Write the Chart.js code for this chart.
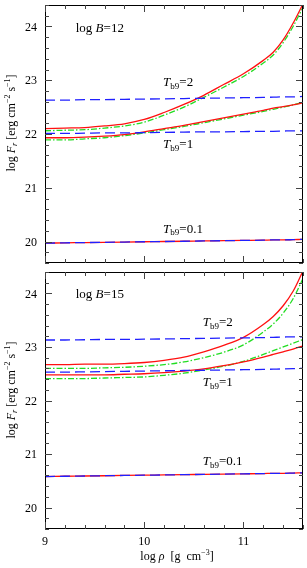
<!DOCTYPE html>
<html><head><meta charset="utf-8">
<script src="https://cdn.jsdelivr.net/npm/chart.js@4/dist/chart.umd.min.js"></script>
<style>
html,body{margin:0;padding:0;background:#fff;width:307px;height:568px;overflow:hidden}
canvas{position:absolute;left:0}
#c1{top:0}
#c2{top:267px}
</style></head><body>
<canvas id="c1" width="307" height="267"></canvas>
<canvas id="c2" width="307" height="301"></canvas>
<script>
// ---- data ----
const rho = [9.0,9.2,9.4,9.6,9.8,10.0,10.2,10.4,10.6,10.8,11.0,11.2,11.3,11.4,11.5,11.6];

// log B = 12
const b12RedT2   = [22.10,22.11,22.12,22.15,22.19,22.27,22.40,22.55,22.72,22.92,23.12,23.37,23.52,23.75,24.06,24.42];
const b12GreenT2 = [22.06,22.07,22.08,22.11,22.15,22.22,22.35,22.50,22.68,22.87,23.07,23.32,23.47,23.70,24.00,24.36];
const b12BlueT2  = [22.63,22.63,22.64,22.64,22.645,22.65,22.655,22.66,22.665,22.67,22.675,22.68,22.685,22.69,22.69,22.70];
const b12RedT1   = [21.93,21.93,21.94,21.96,21.99,22.04,22.10,22.16,22.23,22.30,22.37,22.44,22.48,22.51,22.54,22.58];
const b12GreenT1 = [21.89,21.89,21.91,21.93,21.97,22.02,22.08,22.14,22.21,22.28,22.35,22.42,22.46,22.50,22.54,22.59];
const b12BlueT1  = [22.01,22.01,22.015,22.02,22.02,22.025,22.03,22.035,22.04,22.04,22.045,22.05,22.05,22.055,22.06,22.06];
const b12RedT01  = [19.97,19.975,19.98,19.985,19.99,19.995,20.00,20.005,20.01,20.015,20.02,20.025,20.03,20.03,20.035,20.04];
const b12BlueT01 = [19.97,19.975,19.98,19.985,19.99,19.995,20.00,20.005,20.01,20.015,20.02,20.025,20.03,20.03,20.035,20.04];

// log B = 15
const b15RedT2   = [22.67,22.67,22.68,22.68,22.69,22.71,22.75,22.81,22.91,23.03,23.18,23.42,23.57,23.77,24.04,24.42];
const b15GreenT2 = [22.60,22.60,22.60,22.61,22.62,22.64,22.67,22.72,22.80,22.90,23.04,23.28,23.43,23.63,23.90,24.28];
const b15BlueT2  = [23.13,23.13,23.135,23.14,23.14,23.145,23.15,23.155,23.16,23.165,23.17,23.175,23.18,23.185,23.19,23.19];
const b15RedT1   = [22.48,22.48,22.48,22.48,22.49,22.50,22.52,22.55,22.59,22.65,22.72,22.81,22.86,22.91,22.96,23.02];
const b15GreenT1 = [22.41,22.41,22.41,22.42,22.43,22.44,22.47,22.51,22.57,22.64,22.73,22.86,22.93,23.00,23.07,23.14];
const b15BlueT1  = [22.53,22.53,22.535,22.54,22.545,22.55,22.555,22.56,22.565,22.57,22.575,22.58,22.585,22.59,22.595,22.60];
const b15RedT01  = [20.58,20.585,20.59,20.595,20.60,20.605,20.61,20.615,20.62,20.625,20.63,20.635,20.64,20.64,20.645,20.65];
const b15BlueT01 = [20.58,20.585,20.59,20.595,20.60,20.605,20.61,20.615,20.62,20.625,20.63,20.635,20.64,20.64,20.645,20.65];

const xTickLabels = [9, 10, 11];
const yTickLabels = [20, 21, 22, 23, 24];
const tempLabels = ['2', '1', '0.1'];
const fieldLabels = ['12', '15'];

// ---- styling ----
const SERIF = '"Liberation Serif","DejaVu Serif",serif';
const RED = '#ff1010', GREEN = '#22dd22', BLUE = '#2020ff';
const X_MIN = 9, X_MAX = 11.6, Y_MIN = 19.6, Y_MAX = 24.4;

function pts(ys) { return rho.map((x, i) => ({x: x, y: ys[i]})); }
function ds(ys, kind) {
  const base = {data: pts(ys), pointRadius: 0, borderWidth: 1.3, fill: false,
    cubicInterpolationMode: 'monotone'};
  if (kind === 'g') return Object.assign(base, {borderColor: GREEN, borderDash: [6, 2, 1.5, 2], order: 3});
  if (kind === 'r') return Object.assign(base, {borderColor: RED, order: 2});
  return Object.assign(base, {borderColor: BLUE, borderDash: [10, 5], order: 1});
}

function rich(ctx, parts, x, y, align) {
  let w = 0;
  parts.forEach(p => { ctx.font = p.f; w += ctx.measureText(p.t).width; });
  let cx = align === 'center' ? x - w / 2 : (align === 'right' ? x - w : x);
  ctx.textAlign = 'left';
  parts.forEach(p => {
    ctx.font = p.f;
    ctx.fillText(p.t, cx, y + (p.dy || 0));
    cx += ctx.measureText(p.t).width;
  });
}
const R = s => s + 'px ' + SERIF;
const I = s => 'italic ' + s + 'px ' + SERIF;

function tempLabel(t) {
  return [{t: 'T', f: I(13)}, {t: 'b9', f: R(9), dy: 4}, {t: '=' + t, f: R(13)}];
}

const framePlugin = {
  id: 'frame',
  afterDraw(chart, args, opts) {
    const {ctx, chartArea: a, scales: {x, y}} = chart;
    ctx.save();
    ctx.strokeStyle = '#000';
    ctx.lineWidth = 1;
    ctx.strokeRect(a.left + 0.5, a.top + 0.5, a.right - a.left - 1, a.bottom - a.top - 1);
    ctx.strokeStyle = '#444';
    ctx.beginPath();
    for (let i = Math.round(X_MIN * 5); i <= Math.round(X_MAX * 5); i++) {
      const v = i / 5, major = i % 5 === 0;
      const px = Math.round(x.getPixelForValue(v)) + 0.5;
      const L = major ? 7 : 4;
      ctx.moveTo(px, a.bottom); ctx.lineTo(px, a.bottom - L);
      ctx.moveTo(px, a.top); ctx.lineTo(px, a.top + L);
    }
    for (let i = Math.round(Y_MIN * 5); i <= Math.round(Y_MAX * 5); i++) {
      const v = i / 5, major = i % 5 === 0;
      const py = Math.round(y.getPixelForValue(v)) + 0.5;
      const L = major ? 7 : 4;
      ctx.moveTo(a.left, py); ctx.lineTo(a.left + L, py);
      ctx.moveTo(a.right, py); ctx.lineTo(a.right - L, py);
    }
    ctx.stroke();
    ctx.fillStyle = '#000';
    ctx.textBaseline = 'middle';
    ctx.textAlign = 'right';
    ctx.font = R(12);
    yTickLabels.forEach(v => ctx.fillText(String(v), a.left - 8, y.getPixelForValue(v) + 1));
    if (opts.xLabels) {
      ctx.textAlign = 'center';
      xTickLabels.forEach(v => ctx.fillText(String(v), x.getPixelForValue(v), a.bottom + 13));
      rich(ctx, [{t: 'log ', f: R(12)}, {t: 'ρ', f: I(12)}, {t: '  [g  cm', f: R(12)},
                 {t: '−3', f: R(8), dy: -4}, {t: ']', f: R(12)}], 177, a.bottom + 28, 'center');
    }
    ctx.save();
    ctx.translate(12, opts.titleY);
    ctx.rotate(-Math.PI / 2);
    rich(ctx, [{t: 'log ', f: R(12)}, {t: 'F', f: I(12)}, {t: 'r', f: I(8), dy: 3},
               {t: ' [erg cm', f: R(12)}, {t: '−2', f: R(8), dy: -4}, {t: ' s', f: R(12)},
               {t: '−1', f: R(8), dy: -4}, {t: ']', f: R(12)}], 0, 0, 'center');
    ctx.restore();
    ctx.textBaseline = 'middle';
    opts.notes.forEach(n => {
      const parts = n.kind === 'B'
        ? [{t: 'log ', f: R(13)}, {t: 'B', f: I(13)}, {t: '=' + n.text, f: R(13)}]
        : tempLabel(n.text);
      rich(ctx, parts, x.getPixelForValue(n.x), y.getPixelForValue(n.y), 'left');
    });
    ctx.restore();
  }
};

function makeChart(id, sets, pad, opts) {
  return new Chart(document.getElementById(id), {
    type: 'line',
    data: {datasets: sets},
    options: {
      responsive: false, animation: false, devicePixelRatio: 1,
      layout: {padding: pad},
      plugins: {legend: {display: false}, tooltip: {enabled: false}, frame: opts},
      scales: {
        x: {type: 'linear', min: X_MIN, max: X_MAX, display: false},
        y: {type: 'linear', min: Y_MIN, max: Y_MAX, display: false}
      }
    },
    plugins: [framePlugin]
  });
}

makeChart('c1', [
  ds(b12GreenT2, 'g'), ds(b12GreenT1, 'g'),
  ds(b12RedT2, 'r'), ds(b12RedT1, 'r'), ds(b12RedT01, 'r'),
  ds(b12BlueT2, 'b'), ds(b12BlueT1, 'b'), ds(b12BlueT01, 'b')
], {left: 45, right: 4, top: 5, bottom: 4}, {
  xLabels: false, titleY: 123,
  notes: [
    {kind: 'B', text: fieldLabels[0], x: 9.31, y: 23.96},
    {kind: 'T', text: tempLabels[0], x: 10.19, y: 22.96},
    {kind: 'T', text: tempLabels[1], x: 10.19, y: 21.81},
    {kind: 'T', text: tempLabels[2], x: 10.19, y: 20.23}
  ]
});

makeChart('c2', [
  ds(b15GreenT2, 'g'), ds(b15GreenT1, 'g'),
  ds(b15RedT2, 'r'), ds(b15RedT1, 'r'), ds(b15RedT01, 'r'),
  ds(b15BlueT2, 'b'), ds(b15BlueT1, 'b'), ds(b15BlueT01, 'b')
], {left: 45, right: 4, top: 5, bottom: 39}, {
  xLabels: true, titleY: 123,
  notes: [
    {kind: 'B', text: fieldLabels[1], x: 9.31, y: 23.98},
    {kind: 'T', text: tempLabels[0], x: 10.59, y: 23.46},
    {kind: 'T', text: tempLabels[1], x: 10.59, y: 22.34},
    {kind: 'T', text: tempLabels[2], x: 10.59, y: 20.86}
  ]
});
</script>
</body></html>
